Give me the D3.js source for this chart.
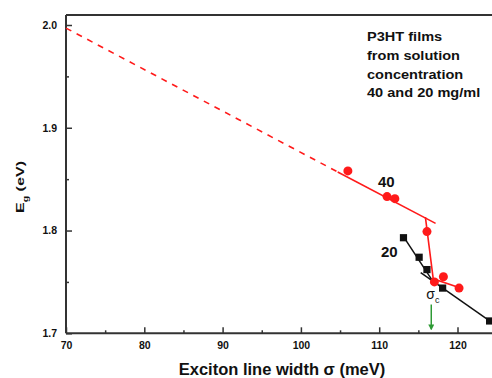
<!DOCTYPE html>
<meta charset="utf-8">
<style>
body { margin: 0; background: #fff; }
text { font-family: Arial, "Liberation Sans", sans-serif; font-weight: bold; fill: #111; }
.axis path, .axis line { stroke: #333; }
.axis text { font-size: 10.5px; fill: #111; }
</style>
<svg></svg>
<script src="https://d3js.org/d3.v7.min.js"></script>
<script>

// measured points, 40 mg/ml (red circles)
var sigma40 = [106.0, 111.0, 112.0, 116.1, 117.05, 118.2, 120.2];
var eg40    = [1.858, 1.833, 1.831, 1.799, 1.750, 1.755, 1.744];

// measured points, 20 mg/ml (black squares)
var sigma20 = [113.1, 115.1, 116.1, 118.1, 124.1];
var eg20    = [1.793, 1.774, 1.762, 1.744, 1.712];

// fitted lines
var fitDashSigma = [70, 104.7];
var fitDashEg    = [1.997, 1.857];
var fitHighSigma = [104.7, 117.2];
var fitHighEg    = [1.857, 1.807];
var fit40LowSigma = [115.9, 116.9, 120.0];
var fit40LowEg    = [1.813, 1.753, 1.745];
var fit20SteepSigma = [113.1, 116.9];
var fit20SteepEg    = [1.794, 1.750];
var fit20LowSigma = [115.3, 124.1];
var fit20LowEg    = [1.759, 1.712];

var sigmaC = 116.65;
var arrowEg = [1.728, 1.704];

var xTicks = [70, 80, 90, 100, 110, 120];
var xMinor = [75, 85, 95, 105, 115, 125];
var yTicks = [1.7, 1.8, 1.9, 2.0];
var yMinor = [1.75, 1.85, 1.95];

var noteLines = ["P3HT films", "from solution", "concentration", "40 and 20 mg/ml"];

var width = 492, height = 378;
var svg = d3.select("svg").attr("width", width).attr("height", height);

var x = d3.scaleLinear().domain([70, 125]).range([66, 66 + 55 * 7.83]);
var y = d3.scaleLinear().domain([1.7, 2.0]).range([333.3, 25]);

svg.append("defs").append("marker")
  .attr("id", "arr")
  .attr("viewBox", "0 0 10 10")
  .attr("refX", 8).attr("refY", 5)
  .attr("markerWidth", 6).attr("markerHeight", 6)
  .attr("markerUnits", "userSpaceOnUse")
  .attr("orient", "auto")
  .append("path").attr("d", "M0,0 L10,5 L0,10 Z").attr("fill", "#2e9a35");

// frame top
svg.append("line")
  .attr("x1", x(70)).attr("x2", width)
  .attr("y1", 15).attr("y2", 15)
  .attr("stroke", "#333").attr("stroke-width", 2);

// axes
var xAxis = svg.append("g").attr("class", "axis")
  .attr("transform", "translate(0," + y(1.7) + ")")
  .call(d3.axisBottom(x).tickValues(xTicks).tickSizeInner(-6).tickSizeOuter(0).tickPadding(8));
svg.append("g").attr("class", "axis")
  .attr("transform", "translate(0," + y(1.7) + ")")
  .call(d3.axisBottom(x).tickValues(xMinor).tickSizeInner(-3).tickSizeOuter(0).tickFormat(""))
  .select(".domain").remove();

var yAxis = svg.append("g").attr("class", "axis")
  .attr("transform", "translate(" + x(70) + ",0)")
  .call(d3.axisLeft(y).tickValues(yTicks).tickSizeInner(-6).tickSizeOuter(0).tickPadding(9).tickFormat(d3.format(".1f")));
svg.append("g").attr("class", "axis")
  .attr("transform", "translate(" + x(70) + ",0)")
  .call(d3.axisLeft(y).tickValues(yMinor).tickSizeInner(-3).tickSizeOuter(0).tickFormat(""))
  .select(".domain").remove();

svg.selectAll(".axis path.domain").attr("stroke-width", 2);
svg.selectAll(".axis .tick line").attr("stroke-width", 1.5);
xAxis.select(".domain").attr("d", "M" + x(70) + ",0H" + width);
yAxis.select(".domain").attr("d", "M0," + 15 + "V" + y(1.7));

// fit lines
var line = d3.line().x(function(d) { return x(d[0]); }).y(function(d) { return y(d[1]); });
function pairs(a, b) { return a.map(function(v, i) { return [v, b[i]]; }); }

svg.append("path").datum(pairs(fitDashSigma, fitDashEg))
  .attr("d", line).attr("fill", "none")
  .attr("stroke", "#ff1a1a").attr("stroke-width", 1.6).attr("stroke-dasharray", "6,6");
svg.append("path").datum(pairs(fitHighSigma, fitHighEg))
  .attr("d", line).attr("fill", "none").attr("stroke", "#ff1a1a").attr("stroke-width", 1.6);
svg.append("path").datum(pairs(fit40LowSigma, fit40LowEg))
  .attr("d", line).attr("fill", "none").attr("stroke", "#ff1a1a").attr("stroke-width", 1.6);
svg.append("path").datum(pairs(fit20SteepSigma, fit20SteepEg))
  .attr("d", line).attr("fill", "none").attr("stroke", "#111").attr("stroke-width", 1.5);
svg.append("path").datum(pairs(fit20LowSigma, fit20LowEg))
  .attr("d", line).attr("fill", "none").attr("stroke", "#111").attr("stroke-width", 1.5);

// points
svg.append("g").selectAll("circle")
  .data(pairs(sigma40, eg40))
  .enter().append("circle")
  .attr("cx", function(d) { return x(d[0]); })
  .attr("cy", function(d) { return y(d[1]); })
  .attr("r", 4.5)
  .attr("fill", "#ff1a1a");

svg.append("g").selectAll("rect")
  .data(pairs(sigma20, eg20))
  .enter().append("rect")
  .attr("x", function(d) { return x(d[0]) - 3.6; })
  .attr("y", function(d) { return y(d[1]) - 3.6; })
  .attr("width", 7.2).attr("height", 7.2)
  .attr("fill", "#111");

// critical width arrow
svg.append("line")
  .attr("x1", x(sigmaC)).attr("x2", x(sigmaC))
  .attr("y1", y(arrowEg[0])).attr("y2", y(arrowEg[1]))
  .attr("stroke", "#2e9a35").attr("stroke-width", 1.5)
  .attr("marker-end", "url(#arr)");

var sc = svg.append("text")
  .attr("x", x(sigmaC) - 5).attr("y", 299)
  .style("font-size", "14px").style("font-weight", "normal").attr("fill", "#333");
sc.append("tspan").text("σ");
sc.append("tspan").attr("dy", 4).style("font-size", "9px").text("c");

// labels
svg.append("text").attr("x", x(110.9)).attr("y", 186.7)
  .attr("text-anchor", "middle").style("font-size", "15px").text("40");
svg.append("text").attr("x", x(111.3)).attr("y", 257)
  .attr("text-anchor", "middle").style("font-size", "15px").text("20");

svg.append("g")
  .attr("transform", "translate(367,0) scale(1.12,1)")
  .selectAll("text")
  .data(noteLines)
  .enter().append("text")
  .attr("x", 0)
  .attr("y", function(d, i) { return 41.5 + i * 18.6; })
  .style("font-size", "13px")
  .text(function(d) { return d; });

svg.append("text")
  .attr("x", 282).attr("y", 375)
  .attr("text-anchor", "middle")
  .style("font-size", "16.5px")
  .text("Exciton line width σ (meV)");

var yl = svg.append("text")
  .attr("transform", "translate(24,187) rotate(-90) scale(1.4,1)")
  .attr("text-anchor", "middle")
  .style("font-size", "11.5px");
yl.append("tspan").text("E");
yl.append("tspan").attr("dy", 4).style("font-size", "7.5px").text("g");
yl.append("tspan").attr("dy", -4).text(" (eV)");

</script>
